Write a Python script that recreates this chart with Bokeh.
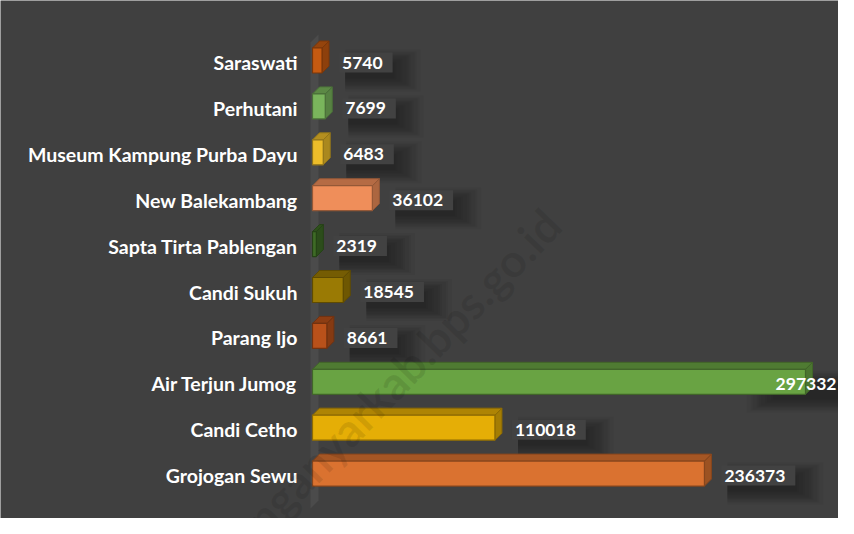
from bokeh.plotting import figure
from bokeh.models import ColumnDataSource
from bokeh.embed import file_html
from bokeh.resources import INLINE
from bokeh.core.properties import value as V

# ---- data (bottom to top) ----
categories = ["Grojogan Sewu", "Candi Cetho", "Air Terjun Jumog", "Parang Ijo", "Candi Sukuh",
              "Sapta Tirta Pablengan", "New Balekambang", "Museum Kampung Purba Dayu",
              "Perhutani", "Saraswati"]
visitors = [236373, 110018, 297332, 8661, 18545, 2319, 36102, 6483, 7699, 5740]

# ---- styles ----
bar_colors = ["#DA7230", "#E5AE06", "#69A343", "#B9511A", "#9A7A04", "#3E6B26",
              "#EF8E5A", "#EDBD2A", "#7AB55C", "#C55A11"]
BG = "#404040"
FONT = "Lato"
VAL_SIZE = "17.5px"
CAT_SIZE = "19.5px"

W, H = 838, 518
ROW_PX = 45.9
TOP_PX = 62
BAR_START_PX = 312
MAX_BAR_PX = 493
n = len(categories)
idx = list(range(n))
k = MAX_BAR_PX / max(visitors)          # px per visitor unit

x_start = -BAR_START_PX / k
x_end = x_start + W / k
y_end = (n - 1) + TOP_PX / ROW_PX
y_start = y_end - H / ROW_PX


def shade(hexc, f):
    r, g, b = int(hexc[1:3], 16), int(hexc[3:5], 16), int(hexc[5:7], 16)
    return "#%02x%02x%02x" % (int(r * f), int(g * f), int(b * f))


p = figure(width=W, height=H, output_backend="svg", toolbar_location=None,
           x_range=(x_start, x_end), y_range=(y_start, y_end),
           x_axis_location=None, y_axis_location=None,
           min_border_left=0, min_border_right=0, min_border_top=0, min_border_bottom=0)
p.background_fill_color = BG
p.border_fill_color = BG
p.outline_line_color = None
p.grid.visible = False

# ---- category labels ----
p.text(x=[0] * n, y=idx, text=categories, x_offset=-15, text_align="right",
       text_baseline="middle", text_color="white", text_font=V(FONT),
       text_font_style="bold", text_font_size=CAT_SIZE)

# ---- back wall strip ----
wl, wr = -2 / k, 6 / k
wall_top, wall_bot = (n - 1) + 0.436, -0.717
wd = 8 / ROW_PX
p.patch([wl, wr, wr, wl], [wall_top, wall_top + wd, wall_bot + wd, wall_bot],
        fill_color="#4b4b4b", line_color=None)

# ---- label geometry ----
LABEL_OFF = 17
inside = [v * k + LABEL_OFF + len(str(v)) * 10 + 13 > (W - BAR_START_PX) for v in visitors]
out_src = ColumnDataSource(dict(
    x=[v for v, ins in zip(visitors, inside) if not ins],
    y=[i for i, ins in zip(idx, inside) if not ins],
    t=[str(v) for v, ins in zip(visitors, inside) if not ins]))
in_src = ColumnDataSource(dict(
    x=[x_end for ins in inside if ins],
    y=[i for i, ins in zip(idx, inside) if ins],
    t=[str(v) for v, ins in zip(visitors, inside) if ins]))

# soft shadows of label boxes
for e in range(10):
    s = int(round(e * 1.4))
    pad = dict(left=1 + s, right=8 + s, top=2 + s, bottom=2 + s)
    common = dict(y="y", text="t", y_offset=8, text_alpha=0, text_font=V(FONT),
                  text_font_style="bold", text_font_size=VAL_SIZE, text_baseline="middle",
                  background_fill_color="black", background_fill_alpha=0.04, padding=pad)
    p.text(x="x", source=out_src, x_offset=LABEL_OFF + 6, text_align="left", **common)
    p.text(x="x", source=in_src, x_offset=-2 + 6, text_align="right", **common)

# ---- 3D bars ----
hh = 12.5 / ROW_PX
cshift = 2 / ROW_PX
dx, dy = 7 / k, 7 / ROW_PX
front = dict(left=[], right=[], bottom=[], top=[], fc=[], lc=[])
top_xs, top_ys, side_xs, side_ys, top_c, side_c, edge_c = [], [], [], [], [], [], []
for i, v, c in zip(idx, visitors, bar_colors):
    b, t = i + cshift - hh, i + cshift + hh
    front["left"].append(0)
    front["right"].append(v)
    front["bottom"].append(b)
    front["top"].append(t)
    front["fc"].append(c)
    front["lc"].append(shade(c, 0.62))
    top_xs.append([0, v, v + dx, dx])
    top_ys.append([t, t, t + dy, t + dy])
    side_xs.append([v, v + dx, v + dx, v])
    side_ys.append([b, b + dy, t + dy, t])
    top_c.append(shade(c, 0.76))
    side_c.append(shade(c, 0.72))
    edge_c.append(shade(c, 0.62))

p.patches(xs=side_xs, ys=side_ys, fill_color=side_c, line_color=edge_c, line_width=1)
p.patches(xs=top_xs, ys=top_ys, fill_color=top_c, line_color=edge_c, line_width=1)
p.quad(left="left", right="right", bottom="bottom", top="top", fill_color="fc",
       line_color="lc", line_width=1.2, source=ColumnDataSource(front))

# ---- label boxes and texts ----
p.text(x="x", y="y", text="t", source=out_src, x_offset=LABEL_OFF, y_offset=0,
       text_color="white", text_font=V(FONT), text_font_style="bold", text_font_size=VAL_SIZE,
       text_baseline="middle", text_align="left",
       background_fill_color="#424242", padding=dict(left=3, right=10, top=4, bottom=4))
p.text(x="x", y="y", text="t", source=in_src, x_offset=-2, y_offset=0,
       text_color="white", text_font=V(FONT), text_font_style="bold", text_font_size=VAL_SIZE,
       text_baseline="middle", text_align="right")

# ---- watermark ----
p.text(x=[x_start + 552 / k], y=[y_end - 216 / ROW_PX],
       text=["karanganyarkab.bps.go.id"], angle=46, angle_units="deg",
       text_align="right", text_baseline="middle", text_color="black", text_alpha=0.09,
       text_font=V(FONT), text_font_style="bold", text_font_size="46px")

open("out.html", "w").write(file_html(p, INLINE))
